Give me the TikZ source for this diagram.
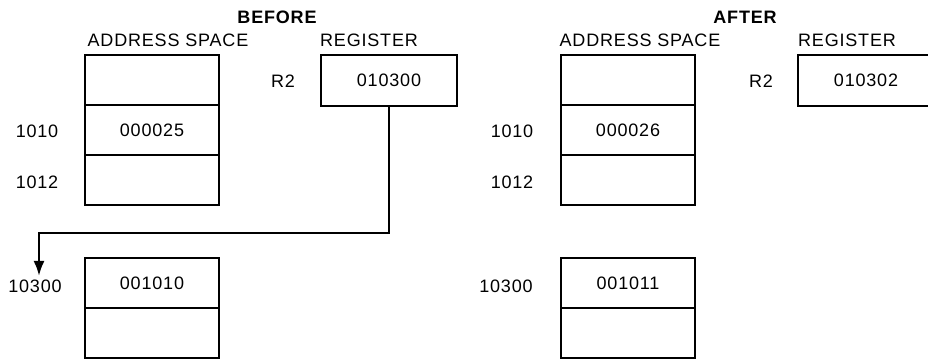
\documentclass[tikz,border=0pt]{standalone}
\usepackage{fontspec}
\setmainfont{Liberation Sans}[LetterSpace=4.5]
\usetikzlibrary{positioning,arrows.meta}

\begin{document}
\begin{tikzpicture}[x=1pt,y=1pt,>=Latex]
  \tikzset{
    cell/.style={draw, line width=2.8pt, outer sep=0pt,
      minimum width=134pt, minimum height=50pt},
    lbl/.style={font=\fontsize{18}{21}\selectfont},
    head/.style={font=\bfseries\fontsize{18}{21}\selectfont},
  }
\useasboundingbox (0,0) rectangle (928,361);
\clip (0,0) rectangle (928,361);

% before
\node[head] (before) at (277,344) {BEFORE};
\node[lbl] (spaceB) at (168,321) {ADDRESS SPACE};
\node[lbl] (regB) at (369,321) {REGISTER};

\node[cell] (cellB0) at (152,281) {};
\node[cell, lbl, below=0pt of cellB0] (cellB1) {000025};
\node[cell, below=0pt of cellB1] (cellB2) {};
\node[lbl] (a1010B) at (37,230) {1010};
\node[lbl] (a1012B) at (37,179) {1012};

\node[cell, lbl, minimum width=136pt, minimum height=51pt] (rB) at (389,280.5) {010300};
\node[lbl] (r2B) at (283,280) {R2};

\node[cell, lbl] (lowB0) at (152,78) {001010};
\node[cell, below=0pt of lowB0] (lowB1) {};
\node[lbl] (a10300B) at (35,75) {10300};

\coordinate (turn) at (39,128);
\coordinate (tip) at (39,85);
\draw[line width=2.4pt, -{Latex[length=15pt,width=11pt]}] (rB.south) |- (turn) -- (tip);

% after
\node[head] (after) at (745,344) {AFTER};
\node[lbl] (spaceA) at (640,321) {ADDRESS SPACE};
\node[lbl] (regA) at (847,321) {REGISTER};

\node[cell] (cellA0) at (628,281) {};
\node[cell, lbl, below=0pt of cellA0] (cellA1) {000026};
\node[cell, below=0pt of cellA1] (cellA2) {};
\node[lbl] (a1010A) at (512,230) {1010};
\node[lbl] (a1012A) at (512,179) {1012};

\node[cell, lbl, minimum width=136pt, minimum height=51pt] (rA) at (866,280.5) {010302};
\node[lbl] (r2A) at (761,280) {R2};

\node[cell, lbl] (lowA0) at (628,78) {001011};
\node[cell, below=0pt of lowA0] (lowA1) {};
\node[lbl] (a10300A) at (506,75) {10300};

\end{tikzpicture}
\end{document}
